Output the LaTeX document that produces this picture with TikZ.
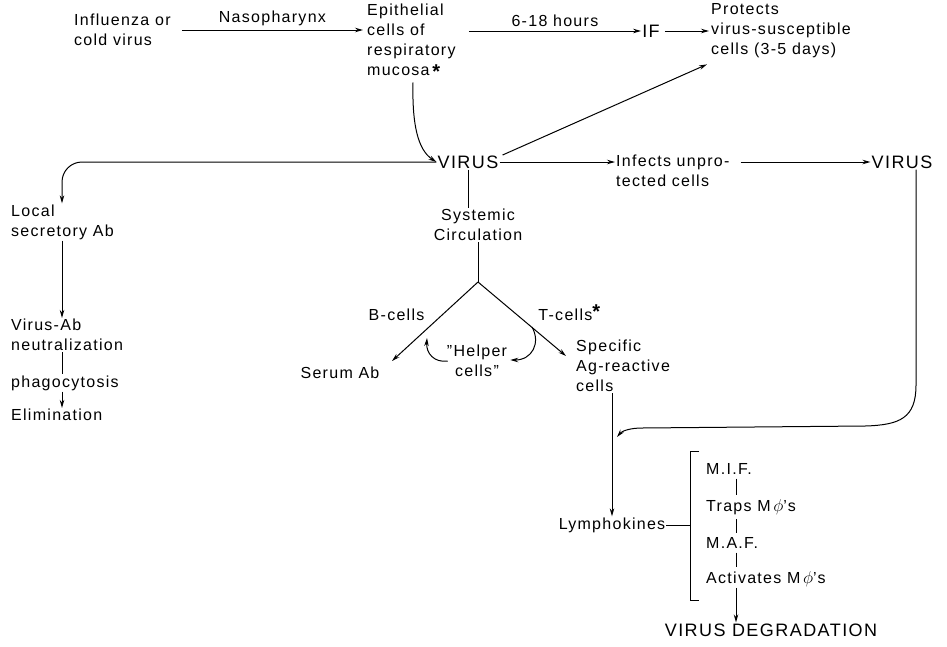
\documentclass[tikz,border=0pt]{standalone}
\usepackage{fontspec}
\setmainfont[LetterSpace=8]{Liberation Sans}
\usetikzlibrary{arrows.meta}
\newcommand{\astk}{\raisebox{-3pt}{\fontsize{20}{20}\selectfont\bfseries *}}
\newcommand{\astsup}{\raisebox{2pt}{\fontsize{20}{20}\selectfont\bfseries *}}
\newcommand{\dq}{\symbol{34}}
\begin{document}
\begin{tikzpicture}[x=1pt,y=-1pt,
  every node/.style={font=\fontsize{16}{20}\selectfont, inner sep=1pt, align=left},
  big/.style={font=\fontsize{18}{20}\selectfont},
  arr/.style={-{Stealth[length=8pt,width=4.5pt]}, line width=1pt},
  ln/.style={line width=1pt}]
\fill[white] (0,0) rectangle (947,646);
\useasboundingbox (0,0) rectangle (947,646);

% top row
\node[anchor=west] (flu) at (73,30) {Influenza or\\cold virus};
\node[anchor=west] (epi) at (366,41) {Epithelial\\cells of\\respiratory\\mucosa\,\astk};
\node[big] (if) at (651,31) {IF};
\node[anchor=west] (prot) at (710,31) {Protects\\virus-susceptible\\cells (3-5 days)};
\draw[arr] ([xshift=10]flu.east) -- ([xshift=-3]flu.east -| epi.west) node[midway,above=3pt] {Nasopharynx};
\draw[arr] ([xshift=12]epi.east |- if.west) -- (if.west) node[midway,above=3pt] {6-18 hours};
\draw[arr] ([xshift=4]if.east) -- ([xshift=-1]if.east -| prot.west);

% virus row
\node[big] (v1) at (468,162) {VIRUS};
\node[anchor=west] (inf) at (615,171) {Infects unpro-\\tected cells};
\node[big] (v2) at (902,162) {VIRUS};
\draw[arr] ([xshift=47,yshift=-3]epi.south west) .. controls (412,125) and (418,150) .. (v1.west);
\draw[arr] ([xshift=3,yshift=7]v1.east) -- ([xshift=-3,yshift=-5]prot.south west);
\draw[arr] (v1.east) -- (v1.east -| inf.west);
\draw[arr] ([xshift=10]inf.east |- v2.west) -- (v2.west);

% left column
\node[anchor=west] (loc) at (10,222) {Local\\secretory Ab};
\node[anchor=west] (neut) at (10,335) {Virus-Ab\\neutralization};
\node[anchor=west] (phag) at (10,383) {phagocytosis};
\node[anchor=west] (elim) at (10,415) {Elimination};
\coordinate (lx) at (62,0);
\draw[arr, rounded corners=20pt] (v1.west) -| (loc.north -| lx);
\draw[arr] (loc.south -| lx) -- (neut.north -| lx);
\draw[ln] (neut.south -| lx) -- (phag.north -| lx);
\draw[arr] (phag.south -| lx) -- (elim.north -| lx);

% systemic
\node[align=center] (sys) at (478,225) {Systemic\\Circulation};
\coordinate (fork) at (478,282);
\draw[ln] (v1.south) -- (v1.south |- sys.north);
\draw[ln] (sys.south) -- (fork);
\node (serum) at (340,373) {Serum Ab};
\node[align=center] (helper) at (477,361) {\dq Helper\\cells\dq};
\node[anchor=west] (spec) at (575,366) {Specific\\Ag-reactive\\cells};
\coordinate (btip) at (392,361);
\coordinate (ttip) at (566,356);
\draw[arr] (fork) -- (btip) node[pos=0.42, left=16pt] {B-cells};
\draw[arr] (fork) -- (ttip) node[pos=0.42, right=22pt] {T-cells\astsup};
\coordinate (bh) at (427,338);
\coordinate (th) at (532,327);
\draw[arr] ([xshift=2]helper.west) .. controls (434,363) and (426,353) .. (bh);
\draw[arr] (th) .. controls (541,343) and (532,360) .. ([xshift=2,yshift=1]helper.east);

% lymphokines
\node (lymph) at (612,525) {Lymphokines};
\draw[arr] (spec.south -| lymph.north) -- (lymph.north);
\coordinate (lk) at (617,437);
\draw[arr] ([xshift=14]v2.south) -- (916,385) .. controls (916,418) and (900,425) .. (865,426) -- (642,428) .. controls (630,428) and (622,431) .. (lk);

% bracket
\coordinate (bt) at (690,451);
\coordinate (bb) at (690,600);
\coordinate (bm) at (690,525);
\draw[ln] (lymph.east) -- (bm);
\draw[ln] ([xshift=9]bt) -- (bt) -- (bb) -- ([xshift=9]bb);
\node[anchor=west] (mif) at (705,469) {M.I.F.};
\node[anchor=west] (traps) at (705,507) {Traps M\,$\phi$'s};
\node[anchor=west] (maf) at (705,543) {M.A.F.};
\node[anchor=west] (act) at (705,579) {Activates M\,$\phi$'s};
\coordinate (tx) at (736,0);
\draw[ln] ([yshift=-3]mif.south -| tx) -- ([yshift=3]traps.north -| tx);
\draw[ln] ([yshift=-3]traps.south -| tx) -- ([yshift=3]maf.north -| tx);
\draw[ln] ([yshift=-3]maf.south -| tx) -- ([yshift=3]act.north -| tx);
\node[font=\fontsize{18}{20}\selectfont] (deg) at (771,630) {VIRUS DEGRADATION};
\draw[arr] (act.south -| tx) -- (deg.north -| tx);
\end{tikzpicture}
\end{document}
